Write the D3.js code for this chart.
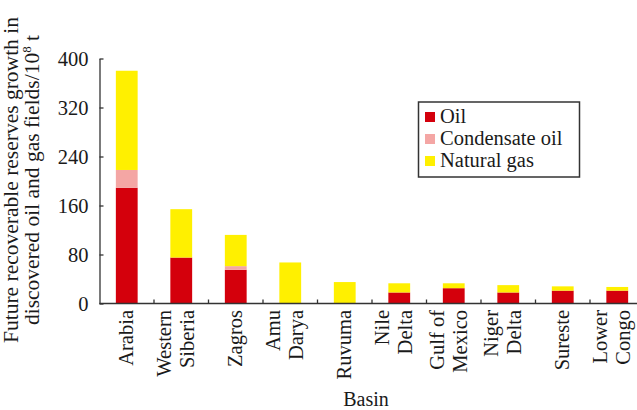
<!DOCTYPE html>
<html>
<head>
<meta charset="utf-8">
<script src="https://cdn.jsdelivr.net/npm/d3@7"></script>
<style>
  html, body { margin: 0; padding: 0; background: #fff; }
  svg { display: block; }
  svg text { font-family: "Liberation Serif", "Times New Roman", serif !important; }
</style>
</head>
<body>
<svg id="chart" width="637" height="410"></svg>
<script>
// Basins, each label split into the lines it is drawn on
const basins = [
  ["Arabia"], ["Western", "Siberia"], ["Zagros"], ["Amu", "Darya"], ["Ruvuma"],
  ["Nile", "Delta"], ["Gulf of", "Mexico"], ["Niger", "Delta"], ["Sureste"], ["Lower", "Congo"]
];
// Future recoverable reserves growth, 10^8 t
const oil        = [189, 75, 55, 0, 0, 18, 25, 18, 21, 21];
const condensate = [29, 0, 6, 0, 0, 0, 0, 0, 0, 0];
const gas        = [162, 79, 51, 67, 35, 15, 8, 12, 7, 6];
const seriesNames = ["Oil", "Condensate oil", "Natural gas"];
const yTicks = [0, 80, 160, 240, 320, 400];

const colors = ["#d4000c", "#f4a6a4", "#fff000"];

const svg = d3.select("#chart");
const plotLeft = 99.5, plotRight = 644.5, plotTop = 58.5, plotBottom = 303.5;

const names = basins.map(b => b.join(" "));
const rows = names.map((n, i) => ({ name: n, s0: oil[i], s1: condensate[i], s2: gas[i] }));
const stack = d3.stack().keys(["s0", "s1", "s2"])(rows);

const x = d3.scaleBand().domain(names).range([plotLeft, plotRight]).paddingInner(0.6).paddingOuter(0.3);
const y = d3.scaleLinear().domain([0, 400]).range([plotBottom, plotTop]);

// stacked bars
svg.append("g").selectAll("g").data(stack).join("g")
  .attr("fill", (d, i) => colors[i])
  .selectAll("rect").data(d => d).join("rect")
  .attr("x", d => x(d.data.name))
  .attr("width", x.bandwidth())
  .attr("y", d => y(d[1]))
  .attr("height", d => y(d[0]) - y(d[1]));

const axisColor = "#333";

// y axis with inward ticks
const yAxis = svg.append("g").attr("transform", `translate(${plotLeft},0)`)
  .call(d3.axisLeft(y).tickValues(yTicks).tickSize(-4).tickPadding(11).tickSizeOuter(0));
yAxis.select(".domain").attr("stroke", axisColor).attr("stroke-width", 1.3);
yAxis.selectAll(".tick line").attr("stroke", axisColor).attr("stroke-width", 1.3);
yAxis.selectAll(".tick text").attr("font-size", 20.5).attr("fill", "#1a1a1a");

// x axis baseline and boundary ticks between basins
svg.append("line").attr("x1", plotLeft).attr("x2", 637).attr("y1", plotBottom).attr("y2", plotBottom)
  .attr("stroke", axisColor).attr("stroke-width", 1.3);
const step = x.step();
svg.append("g").selectAll("line").data(d3.range(1, names.length)).join("line")
  .attr("x1", k => plotLeft + k * step).attr("x2", k => plotLeft + k * step)
  .attr("y1", plotBottom).attr("y2", plotBottom - 4)
  .attr("stroke", axisColor).attr("stroke-width", 1.3);

// rotated basin labels
const lab = svg.append("g").attr("font-size", 20.5).attr("fill", "#1a1a1a");
basins.forEach((lines, i) => {
  const cx = x(names[i]) + x.bandwidth() / 2;
  const offs = lines.length === 1 ? [6] : [-10, 13];
  lines.forEach((t, j) => {
    lab.append("text")
      .attr("transform", `translate(${cx + offs[j]},310) rotate(-90)`)
      .attr("text-anchor", "end")
      .text(t);
  });
});

// axis titles
svg.append("text").attr("x", 366).attr("y", 406).attr("text-anchor", "middle")
  .attr("font-size", 20).attr("fill", "#1a1a1a").text("Basin");

const yt = svg.append("g").attr("font-size", 21.5).attr("fill", "#1a1a1a");
yt.append("text").attr("transform", "translate(18,180) rotate(-90)")
  .attr("text-anchor", "middle").text("Future recoverable reserves growth in");
const t2 = yt.append("text").attr("transform", "translate(39,180) rotate(-90)")
  .attr("text-anchor", "middle");
t2.append("tspan").text("discovered oil and gas fields/10");
t2.append("tspan").attr("font-size", 13).attr("dy", -8).text("8");
t2.append("tspan").attr("dy", 8).text(" t");

// legend
const lg = svg.append("g");
lg.append("rect").attr("x", 418.5).attr("y", 102).attr("width", 161).attr("height", 75)
  .attr("fill", "#fff").attr("stroke", "#333").attr("stroke-width", 1.5);
seriesNames.forEach((n, i) => {
  const yy = 112 + i * 22;
  lg.append("rect").attr("x", 425).attr("y", yy).attr("width", 10).attr("height", 10).attr("fill", colors[i]);
  lg.append("text").attr("x", 440).attr("y", yy + 11).attr("font-size", 20.5).attr("fill", "#1a1a1a").text(n);
});
</script>
</body>
</html>
